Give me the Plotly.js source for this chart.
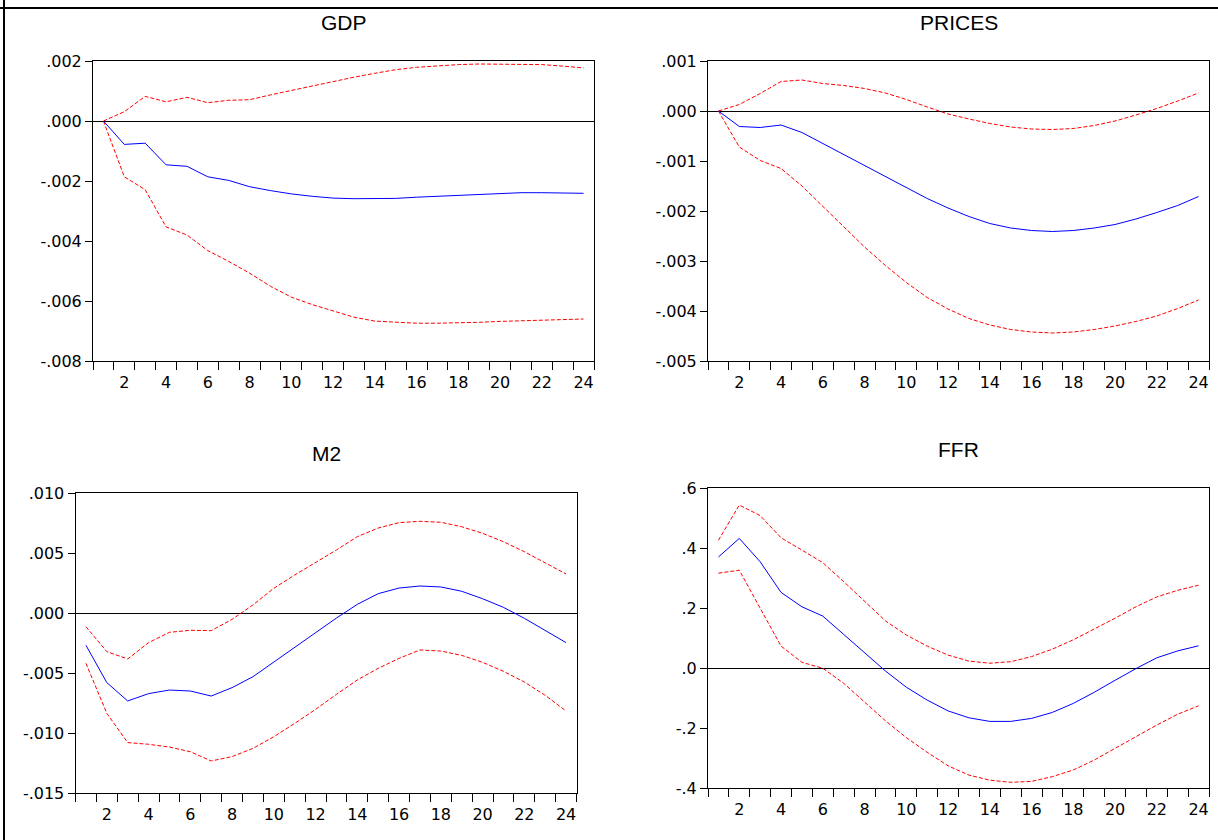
<!DOCTYPE html>
<html>
<head>
<meta charset="utf-8">
<script src="https://cdn.plot.ly/plotly-3.0.1.min.js"></script>
<style>
  html, body { margin: 0; padding: 0; background: #fff; }
  #chart { width: 1218px; height: 840px; }
</style>
</head>
<body>
<div id="chart"></div>
<script>
// ---------- DATA ----------
const periods = [1,2,3,4,5,6,7,8,9,10,11,12,13,14,15,16,17,18,19,20,21,22,23,24];

const gdpResponse = [0,-0.00078,-0.00074,-0.00146,-0.00151,-0.00186,-0.00198,-0.00219,-0.00232,-0.00243,-0.00251,-0.00257,-0.00259,-0.00259,-0.00258,-0.00254,-0.00251,-0.00247,-0.00243,-0.00241,-0.00239,-0.00239,-0.00240,-0.00241];
const gdpUpper    = [0,0.00031,0.00082,0.00064,0.00079,0.00061,0.00069,0.00071,0.00087,0.00102,0.00117,0.00132,0.00146,0.00159,0.00171,0.00179,0.00184,0.00188,0.00190,0.00190,0.00190,0.00188,0.00183,0.00177];
const gdpLower    = [0,-0.00186,-0.00229,-0.00353,-0.00380,-0.00432,-0.00468,-0.00507,-0.00551,-0.00587,-0.00612,-0.00634,-0.00654,-0.00667,-0.00671,-0.00674,-0.00674,-0.00673,-0.00671,-0.00668,-0.00666,-0.00663,-0.00661,-0.00660];

const pricesResponse = [0,-0.00031,-0.00033,-0.00028,-0.00043,-0.00065,-0.00087,-0.00110,-0.00132,-0.00154,-0.00175,-0.00194,-0.00211,-0.00225,-0.00234,-0.00239,-0.00241,-0.00239,-0.00234,-0.00227,-0.00216,-0.00203,-0.00189,-0.00171];
const pricesUpper    = [0,0.00013,0.00035,0.00059,0.00062,0.00055,0.00051,0.00045,0.00036,0.00023,0.00008,-0.00006,-0.00016,-0.00025,-0.00032,-0.00036,-0.00037,-0.00035,-0.00029,-0.00020,-0.00008,0.00005,0.00020,0.00036];
const pricesLower    = [0,-0.00072,-0.00099,-0.00115,-0.00150,-0.00190,-0.00232,-0.00272,-0.00309,-0.00343,-0.00373,-0.00396,-0.00415,-0.00428,-0.00437,-0.00442,-0.00444,-0.00442,-0.00437,-0.00430,-0.00421,-0.00410,-0.00395,-0.00378];

const m2Response = [-0.00269,-0.00580,-0.00733,-0.00672,-0.00642,-0.00650,-0.00692,-0.00622,-0.00531,-0.00408,-0.00286,-0.00164,-0.00042,0.00072,0.00161,0.00208,0.00225,0.00217,0.00181,0.00119,0.00047,-0.00044,-0.00147,-0.00247];
const m2Upper    = [-0.00114,-0.00322,-0.00383,-0.00247,-0.00161,-0.00144,-0.00147,-0.00053,0.00067,0.00206,0.00317,0.00419,0.00525,0.00636,0.00708,0.00753,0.00764,0.00756,0.00719,0.00664,0.00594,0.00511,0.00420,0.00325];
const m2Lower    = [-0.00419,-0.00836,-0.01080,-0.01094,-0.01117,-0.01156,-0.01233,-0.01197,-0.01128,-0.01031,-0.00920,-0.00803,-0.00678,-0.00558,-0.00461,-0.00378,-0.00308,-0.00317,-0.00353,-0.00411,-0.00486,-0.00575,-0.00686,-0.00817];

const ffrResponse = [0.370,0.432,0.354,0.252,0.204,0.173,0.112,0.052,-0.010,-0.064,-0.107,-0.143,-0.166,-0.178,-0.178,-0.168,-0.148,-0.118,-0.081,-0.041,-0.002,0.034,0.057,0.074];
const ffrUpper    = [0.426,0.543,0.508,0.434,0.393,0.351,0.288,0.221,0.157,0.110,0.073,0.043,0.023,0.016,0.021,0.038,0.063,0.094,0.129,0.166,0.204,0.237,0.259,0.276];
const ffrLower    = [0.316,0.326,0.199,0.073,0.019,-0.001,-0.051,-0.112,-0.176,-0.232,-0.281,-0.326,-0.357,-0.374,-0.381,-0.378,-0.362,-0.340,-0.307,-0.268,-0.229,-0.190,-0.154,-0.126];

const panelTitles = ["GDP", "PRICES", "M2", "FFR"];

const xTickVals   = [2,4,6,8,10,12,14,16,18,20,22,24];
const xTickLabels = ["2","4","6","8","10","12","14","16","18","20","22","24"];

const gdpTickVals    = [0.002, 0.000, -0.002, -0.004, -0.006, -0.008];
const gdpTickText    = [".002", ".000", "-.002", "-.004", "-.006", "-.008"];
const pricesTickVals = [0.001, 0.000, -0.001, -0.002, -0.003, -0.004, -0.005];
const pricesTickText = [".001", ".000", "-.001", "-.002", "-.003", "-.004", "-.005"];
const m2TickVals     = [0.010, 0.005, 0.000, -0.005, -0.010, -0.015];
const m2TickText     = [".010", ".005", ".000", "-.005", "-.010", "-.015"];
const ffrTickVals    = [0.6, 0.4, 0.2, 0.0, -0.2, -0.4];
const ffrTickText    = [".6", ".4", ".2", ".0", "-.2", "-.4"];

// ---------- LAYOUT ----------
const W = 1218, H = 840;
const px = v => v / W;
const py = v => (H - v) / H;

// plot boxes in pixels: [left, right, top, bottom]
const boxes = [
  [93, 594, 61, 361],
  [708, 1209, 61, 361],
  [75.5, 576.5, 493, 793],
  [708, 1209, 488, 788]
];
const titleY = [22, 22, 453, 449];

const panels = [
  {resp: gdpResponse, up: gdpUpper, lo: gdpLower, tv: gdpTickVals, tt: gdpTickText},
  {resp: pricesResponse, up: pricesUpper, lo: pricesLower, tv: pricesTickVals, tt: pricesTickText},
  {resp: m2Response, up: m2Upper, lo: m2Lower, tv: m2TickVals, tt: m2TickText},
  {resp: ffrResponse, up: ffrUpper, lo: ffrLower, tv: ffrTickVals, tt: ffrTickText}
];

const minorTicks = periods.map(p => p - 0.5).concat([periods[periods.length - 1] + 0.5]);
const tickFont = {family: "DejaVu Sans, Arial, sans-serif", size: 16, color: "#000"};

const traces = [];
const layout = {
  width: W, height: H,
  margin: {l: 0, r: 0, t: 0, b: 0},
  paper_bgcolor: "#fff",
  plot_bgcolor: "#fff",
  showlegend: false,
  annotations: [],
  shapes: [
    {type: "line", xref: "paper", yref: "paper", x0: 0, x1: 1, y0: py(8), y1: py(8), line: {color: "#000", width: 2}},
    {type: "line", xref: "paper", yref: "paper", x0: px(4), x1: px(4), y0: 0, y1: 1, line: {color: "#000", width: 2}}
  ]
};

panels.forEach((p, i) => {
  const n = i + 1;
  const xa = n === 1 ? "x" : "x" + n;
  const ya = n === 1 ? "y" : "y" + n;
  const b = boxes[i];
  const lo = Math.min.apply(null, p.tv), hi = Math.max.apply(null, p.tv);

  traces.push({x: periods, y: p.up, xaxis: xa, yaxis: ya, type: "scatter", mode: "lines",
               line: {color: "#ff0000", width: 1, dash: "4px,2px"}, hoverinfo: "skip"});
  traces.push({x: periods, y: p.lo, xaxis: xa, yaxis: ya, type: "scatter", mode: "lines",
               line: {color: "#ff0000", width: 1, dash: "4px,2px"}, hoverinfo: "skip"});
  traces.push({x: periods, y: p.resp, xaxis: xa, yaxis: ya, type: "scatter", mode: "lines",
               line: {color: "#0000ff", width: 1}, hoverinfo: "skip"});

  layout["xaxis" + (n === 1 ? "" : n)] = {
    domain: [px(b[0]), px(b[1])],
    anchor: ya,
    range: [0.5, 24.5],
    showgrid: false, zeroline: false,
    showline: true, mirror: true, linecolor: "#000", linewidth: 1,
    tickmode: "array", tickvals: xTickVals, ticktext: xTickLabels,
    ticks: "outside", ticklen: 7, tickcolor: "rgba(0,0,0,0)",
    minor: {tickmode: "array", tickvals: minorTicks, ticks: "outside", ticklen: 8, tickcolor: "#000", tickwidth: 1, showgrid: false},
    tickfont: tickFont,
    fixedrange: true
  };
  layout["yaxis" + (n === 1 ? "" : n)] = {
    domain: [py(b[3]), py(b[2])],
    anchor: xa,
    range: [lo, hi],
    showgrid: false,
    zeroline: true, zerolinecolor: "#000", zerolinewidth: 1,
    showline: true, mirror: true, linecolor: "#000", linewidth: 1,
    tickmode: "array", tickvals: p.tv, ticktext: p.tt,
    ticks: "outside", ticklen: 7, tickcolor: "#000", tickwidth: 1,
    tickfont: tickFont,
    fixedrange: true
  };
  layout.annotations.push({
    xref: "paper", yref: "paper",
    x: px((b[0] + b[1]) / 2), y: py(titleY[i]),
    xanchor: "center", yanchor: "middle",
    text: panelTitles[i], showarrow: false,
    font: {family: "Liberation Sans, Arial, sans-serif", size: 21, color: "#000"}
  });
});

Plotly.newPlot("chart", traces, layout, {staticPlot: true, displayModeBar: false});
</script>
</body>
</html>
